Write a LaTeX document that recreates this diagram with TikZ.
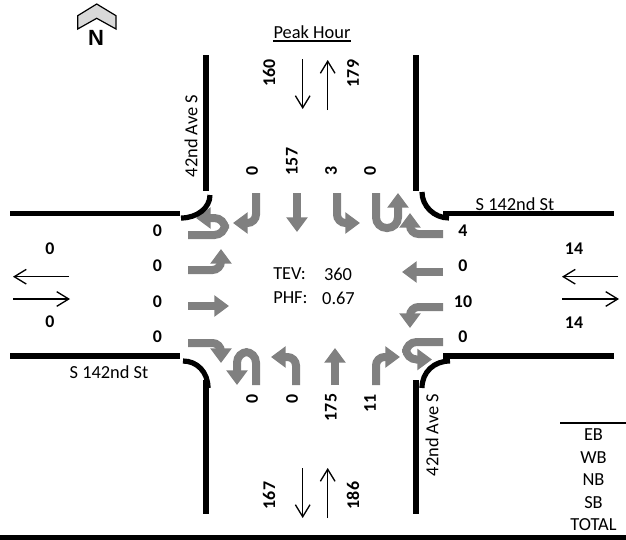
\documentclass[tikz,border=0pt]{standalone}
\usepackage{fontspec}
\setmainfont{Carlito}
\newfontfamily\northfont{Liberation Sans}
\usetikzlibrary{arrows.meta}
\definecolor{flowgray}{RGB}{128,128,128}
\definecolor{northfill}{RGB}{217,217,217}
\tikzset{
  curbline/.style={line width=3.9pt,black},
  turnarrow/.style={line width=6pt,flowgray,rounded corners=6.4pt,-{Triangle[width=15.5pt,length=11pt]}},
  uturnarrow/.style={turnarrow,rounded corners=8pt},
  peakarrow/.style={line width=1pt,black,-{Straight Barb[length=9pt,width=11pt]}},
  countlabel/.style={font=\bfseries\fontsize{13.4}{15}\selectfont,inner sep=0pt},
  streetlabel/.style={font=\fontsize{13.8}{15}\selectfont,inner sep=0pt}
}
\begin{document}
\begin{tikzpicture}[x=0.75pt,y=-0.75pt]
  \useasboundingbox (0,0) rectangle (626,540);
  % north symbol
  \draw[fill=northfill,line width=0.9pt] (96.7,4) -- (116,15.7) -- (116,29) -- (96.7,18.3) -- (77.7,29) -- (77.7,15.7) -- cycle;
  \node[font=\northfont\bfseries\fontsize{16.5}{18}\selectfont,inner sep=0pt] (north) at (96,38) {N};
  % southbound
  \draw[turnarrow] (256,193) -- (256,223) -- (233,223);
  \draw[turnarrow] (297,193) -- (297,232);
  \draw[turnarrow] (337,193) -- (337,223) -- (360,223);
  \draw[uturnarrow] (376,193) -- (376,228) -- (398,228) -- (398,193);
  % westbound
  \draw[turnarrow] (443,234) -- (410,234) -- (410,213);
  \draw[turnarrow] (443,272) -- (402,272);
  \draw[turnarrow] (443,307) -- (410,307) -- (410,328);
  \draw[uturnarrow] (443,342) -- (406,342) -- (406,359.5) -- (432,359.5);
  % northbound
  \draw[uturnarrow] (256,385) -- (256,352) -- (237,352) -- (237,385);
  \draw[turnarrow] (296,385) -- (296,357) -- (271,357);
  \draw[turnarrow] (335,385) -- (335,348);
  \draw[turnarrow] (376,385) -- (376,357) -- (400,357);
  % eastbound
  \draw[uturnarrow] (188,235) -- (225,235) -- (225,218) -- (196,218);
  \draw[turnarrow] (188,270) -- (221,270) -- (221,249);
  \draw[turnarrow] (188,306) -- (229,306);
  \draw[turnarrow] (188,343) -- (221,343) -- (221,363);
  % curbs
  \draw[curbline] (206,55) -- (206,191);
  \draw[curbline] (10,213.5) -- (180,213.5);
  \draw[curbline] (210,195) .. controls (210,208) and (197,218) .. (181,218);
  \draw[curbline] (416,55) -- (416,191);
  \draw[curbline] (443,213.5) -- (614,213.5);
  \draw[curbline] (422,192) .. controls (422,206) and (434,218) .. (449,218);
  \draw[curbline] (10,356) -- (180,356);
  \draw[curbline] (183,361) .. controls (197,361) and (208,372) .. (208,388);
  \draw[curbline] (206,380) -- (206,514);
  \draw[curbline] (443,356) -- (614,356);
  \draw[curbline] (450,361) .. controls (434,361) and (422,372) .. (422,388);
  \draw[curbline] (416,380) -- (416,514);
  % turn counts
  \foreach \nm/\x/\y/\val in {sbr/252/171/0,sbt/292/161.5/157,sbl/331/171/3,sbu/370/171/0,nbu/252/398.5/0,nbl/292/398.5/0,nbt/331/407.5/175,nbr/370/403/11,nin/269/73/160,nout/353/73.5/179,sout/269/495.5/167,sin/353/495.5/186}
    \node[countlabel,rotate=90] (\nm) at (\x,\y) {\val};
  \foreach \nm/\x/\y/\val in {ebu/157.5/231/0,ebl/157.5/266/0,ebt/157.5/302/0,ebr/157.5/337/0,wbr/463/231/4,wbt/463/266/0,wbl/463/302/10,wbu/463/337/0,eout/50/249/0,ein/50/322/0,win/574/249/14,wout/574/323/14}
    \node[countlabel] (\nm) at (\x,\y) {\val};
  % peak hour arrows
  \draw[peakarrow] (302.7,59) -- (302.7,109);
  \draw[peakarrow] (327.7,110) -- (327.7,60);
  \draw[peakarrow] (302.7,468) -- (302.7,518);
  \draw[peakarrow] (327.7,518) -- (327.7,468);
  \draw[peakarrow] (69,276.7) -- (13,276.7);
  \draw[peakarrow] (13,299) -- (70,299);
  \draw[peakarrow] (618,276.7) -- (562,276.7);
  \draw[peakarrow] (562,299) -- (619,299);
  % center and street text
  \node[streetlabel,anchor=base] (peak) at (312,38) {Peak Hour};
  \draw[line width=1pt] (peak.base west) ++(0,3) -- ++(78,0);
  \node[streetlabel,anchor=west] (tev) at (273,274) {TEV:};
  \node[streetlabel] (tevval) at (338,274) {360};
  \node[streetlabel,anchor=west] (phf) at (273,298) {PHF:};
  \node[streetlabel] (phfval) at (338.5,298) {0.67};
  \node[streetlabel,rotate=90] (nleg) at (191,136) {42nd Ave S};
  \node[streetlabel,rotate=90] (sleg) at (432,435) {42nd Ave S};
  \node[streetlabel] (eleg) at (515,204) {S 142nd St};
  \node[streetlabel] (wleg) at (109,372) {S 142nd St};
  % legend
  \draw[line width=1pt] (560,423) -- (626,423);
  \foreach \nm/\y/\val in {legeb/435/EB,legwb/458/WB,legnb/480/NB,legsb/503/SB,legtot/525/TOTAL}
    \node[streetlabel] (\nm) at (593.5,\y) {\val};
  \fill (0,535) rectangle (626,540);
\end{tikzpicture}
\end{document}
